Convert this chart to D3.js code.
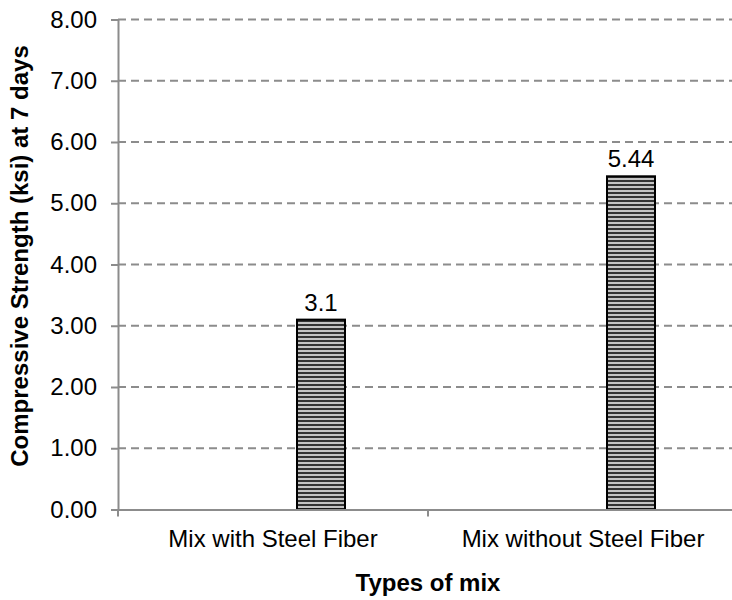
<!DOCTYPE html>
<html>
<head>
<meta charset="utf-8">
<script src="https://d3js.org/d3.v7.min.js"></script>
<style>
  body { margin: 0; background: #fff; }
  text { font-family: "Liberation Sans", Arial, sans-serif; fill: #000; }
</style>
</head>
<body>
<div id="graph-area"></div>
<script>

    // chart data
    const categories = ["Mix with Steel Fiber", "Mix without Steel Fiber"];
    const series = ["(empty 1)", "(empty 2)", "7 days"];
    const strength = [3.1, 5.44];
    const valueLabels = ["3.1", "5.44"];
    const yTicks = [0, 1, 2, 3, 4, 5, 6, 7, 8];

    const w = 732;
    const h = 600;
    const padL = 118, padR = 738, padT = 19.5, padB = 509.5;
    const fontSize = 24;

    const svg = d3.select("#graph-area").append("svg")
                  .attr("width", w)
                  .attr("height", h);

    // striped fill for the bars
    const pat = svg.append("defs").append("pattern")
       .attr("id", "stripes")
       .attr("patternUnits", "userSpaceOnUse")
       .attr("width", 8)
       .attr("height", 4);
    pat.append("rect").attr("width", 8).attr("height", 4).attr("fill", "#c4c4c4");
    pat.append("rect").attr("width", 8).attr("height", 2).attr("fill", "#333");

    const x0 = d3.scaleBand()
                 .domain(categories)
                 .range([padL, padR]);

    const x1 = d3.scaleBand()
                 .domain(series)
                 .range([0, x0.bandwidth()])
                 .paddingOuter(1.729);

    const yScale = d3.scaleLinear()
                     .domain([0, 8])
                     .range([padB, padT]);

    // gridlines
    svg.selectAll(".grid")
       .data(yTicks.filter(d => d > 0))
       .enter()
       .append("line")
       .attr("x1", padL)
       .attr("x2", padR)
       .attr("y1", d => yScale(d))
       .attr("y2", d => yScale(d))
       .attr("stroke", "#8c8c8c")
       .attr("stroke-width", 2)
       .attr("stroke-dasharray", "8,5");

    // bars
    svg.selectAll(".bar")
       .data(strength)
       .enter()
       .append("rect")
       .attr("x", (d, i) => x0(categories[i]) + x1(series[2]))
       .attr("y", d => yScale(d))
       .attr("width", x1.bandwidth())
       .attr("height", d => yScale(0) - yScale(d))
       .attr("fill", "url(#stripes)")
       .attr("stroke", "#000")
       .attr("stroke-width", 2);

    // value labels
    svg.selectAll(".val")
       .data(strength)
       .enter()
       .append("text")
       .attr("x", (d, i) => x0(categories[i]) + x1(series[2]) + x1.bandwidth() / 2)
       .attr("y", d => yScale(d) - 9)
       .attr("text-anchor", "middle")
       .style("font-size", fontSize + "px")
       .text((d, i) => valueLabels[i]);

    // y axis
    const yAxis = d3.axisLeft(yScale)
                    .tickValues(yTicks)
                    .tickFormat(d3.format(".2f"))
                    .tickSize(7)
                    .tickPadding(14);

    const gy = svg.append("g")
       .attr("transform", "translate(" + padL + ",0)")
       .call(yAxis);
    gy.select(".domain").attr("stroke", "#8c8c8c").attr("stroke-width", 2);
    gy.selectAll(".tick line").attr("stroke", "#8c8c8c").attr("stroke-width", 2);
    gy.selectAll("text").style("font-size", fontSize + "px")
      .style("font-family", "Liberation Sans, Arial, sans-serif").attr("fill", "#000");

    // x axis with ticks between categories
    const xAxis = d3.axisBottom(x0).tickSize(0).tickPadding(20);
    const gx = svg.append("g")
       .attr("transform", "translate(0," + padB + ")")
       .call(xAxis);
    gx.select(".domain").attr("stroke", "#8c8c8c").attr("stroke-width", 2);
    gx.selectAll("text").style("font-size", fontSize + "px")
      .style("font-family", "Liberation Sans, Arial, sans-serif").attr("fill", "#000");

    gx.selectAll(".sep")
      .data(categories.map(c => x0(c)).concat([x0.range()[1]]))
      .enter()
      .append("line")
      .attr("x1", d => d)
      .attr("x2", d => d)
      .attr("y1", 0)
      .attr("y2", 7)
      .attr("stroke", "#8c8c8c")
      .attr("stroke-width", 2);

    // x axis title
    svg.append("text")
      .attr("x", (padL + padR) / 2)
      .attr("y", 591)
      .attr("text-anchor", "middle")
      .style("font-size", fontSize + "px")
      .style("font-weight", "bold")
      .text("Types of mix");

    // y axis title
    svg.append("text")
      .attr("transform", "translate(28," + 256 + ") rotate(-90)")
      .attr("text-anchor", "middle")
      .style("font-size", fontSize + "px")
      .style("font-weight", "bold")
      .text("Compressive Strength (ksi) at 7 days");

</script>
</body>
</html>
